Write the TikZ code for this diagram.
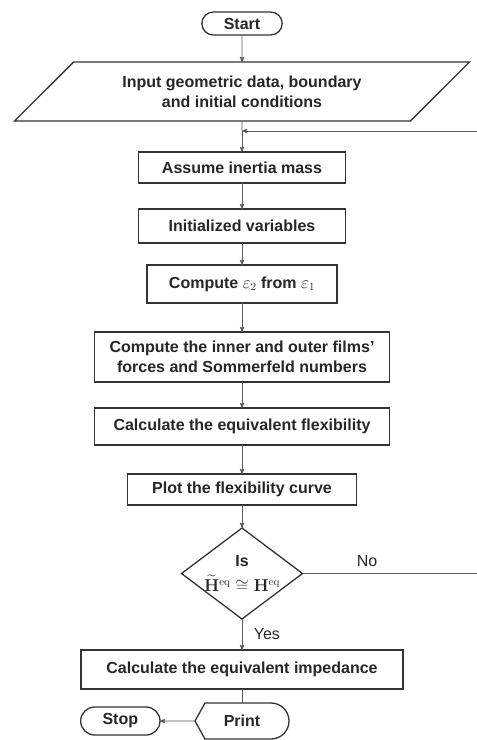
\documentclass[tikz,border=0pt]{standalone}
\usepackage{amsmath,amssymb}
\usepackage[no-math]{fontspec}
\setmainfont{Liberation Sans}
\usetikzlibrary{shapes.geometric,shapes.misc,arrows,positioning}

\begin{document}
\begin{tikzpicture}[x=1pt,y=-1pt,>=stealth',
		every node/.style={font=\fontsize{16}{20}\selectfont\bfseries,text=black!85},
		block/.style={draw=black!80,line width=1.3pt,rectangle,align=center,inner sep=2pt,outer sep=0pt},
		term/.style={draw=black!80,line width=1.3pt,rounded rectangle,minimum height=23pt,minimum width=87pt,outer sep=0pt},
		io/.style={draw=black!80,line width=1.3pt,trapezium,trapezium left angle=33,trapezium right angle=147,trapezium stretches body,align=center,outer sep=0pt},
		decide/.style={draw=black!80,line width=1.3pt,diamond,align=center,inner sep=-6pt,minimum width=121pt,minimum height=91pt,outer sep=0pt},
		flow/.style={->,draw=black!65,line width=0.9pt},
		link/.style={draw=black!65,line width=0.9pt}]
	\useasboundingbox (0,0) rectangle (477,740);
	\coordinate (edge) at (477,0);
	\node[term] (start) at (242,23.5) {Start};
	\node[io,minimum height=59pt,minimum width=455pt] [below=27pt of start] (input) {Input geometric data, boundary\\and initial conditions};
	\coordinate[below=10pt of input] (join);
	\node[block,minimum width=207pt,minimum height=31pt] [below=31pt of input] (assume) {Assume inertia mass};
	\node[block,minimum width=207pt,minimum height=34pt] [below=26pt of assume] (init) {Initialized variables};
	\node[block,minimum width=190pt,minimum height=38pt] [below=22pt of init] (eps) {Compute $\varepsilon_2$ from $\varepsilon_1$};
	\node[block,minimum width=295pt,minimum height=50pt] [below=29pt of eps] (films) {Compute the inner and outer films'\\forces and Sommerfeld numbers};
	\node[block,minimum width=295pt,minimum height=37pt] [below=26pt of films] (flex) {Calculate the equivalent flexibility};
	\node[block,minimum width=229pt,minimum height=31pt] [below=29pt of flex] (plot) {Plot the flexibility curve};
	\node[decide] [below=23pt of plot] (check) {Is\\[5pt]$\widetilde{\mathbf{H}}^{\mathrm{eq}}\cong\mathbf{H}^{\mathrm{eq}}$};
	\node[block,minimum width=322pt,minimum height=39pt] [below=31pt of check] (imp) {Calculate the equivalent impedance};
	\node[minimum width=94pt,minimum height=36pt,outer sep=0pt] [below=14pt of imp] (print) {Print};
	\draw[draw=black!80,line width=1.3pt] (print.west) -- ([xshift=10pt]print.north west) -- ([xshift=-18pt]print.north east)
		arc[start angle=90,end angle=-90,radius=18pt] -- ([xshift=10pt]print.south west) -- cycle;
	\node[term,minimum width=86pt,minimum height=28pt] [left=35pt of print] (stop) {Stop};
	% connectors
	\draw[flow] (start) -- (input);
	\draw[link] (input) -- (join);
	\draw[flow] (join) -- (assume);
	\draw[flow] (join -| edge) -- (join);
	\draw[flow] (assume) -- (init);
	\draw[flow] (init) -- (eps);
	\draw[flow] (eps) -- (films);
	\draw[flow] (films) -- (flex);
	\draw[flow] (flex) -- (plot);
	\draw[flow] (plot) -- (check);
	\draw[link] (check.east) -- node[above=3pt,pos=0.37,font=\fontsize{16}{20}\selectfont] {No} (check.east -| edge);
	\draw[flow] (check) -- node[right=8pt,font=\fontsize{16}{20}\selectfont] {Yes} (imp);
	\draw[link] (imp) -- (print);
	\draw[flow] (print.west) -- (stop);
\end{tikzpicture}
\end{document}
